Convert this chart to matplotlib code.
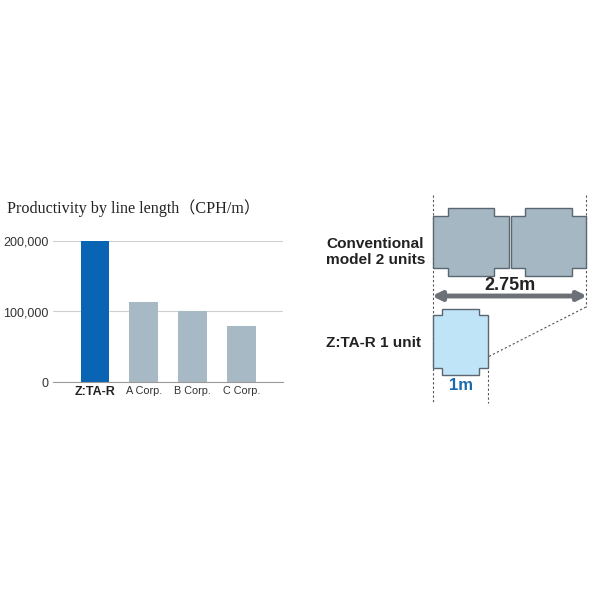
import matplotlib
matplotlib.use("Agg")
import matplotlib.pyplot as plt
from matplotlib.patches import Polygon

# ---- data ----
categories = ["Z:TA-R", "A Corp.", "B Corp.", "C Corp."]
values = [200000, 114000, 100000, 79000]
bar_colors = ["#0a64b4", "#a7b9c4", "#a7b9c4", "#a7b9c4"]
yticks = [0, 100000, 200000]
ytick_labels = ["0", "100,000", "200,000"]
title = "Productivity by line length（CPH/m）"
conv_label = "Conventional\nmodel 2 units"
zta_label = "Z:TA-R 1 unit"
conv_length = "2.75m"
zta_length = "1m"

fig = plt.figure(figsize=(6, 6), dpi=100)

# ---- bar chart ----
ax = fig.add_axes([53/600, 1 - 382.3/600, 230/600, 141.6/600])
x = range(len(categories))
ax.bar(x, values, width=0.59, color=bar_colors, zorder=2)
ax.set_xlim(-0.857, 3.84)
ax.set_ylim(0, 200000)
ax.set_yticks(yticks)
ax.set_yticklabels(ytick_labels, fontsize=9, color="#333333", family="Liberation Sans")
ax.set_xticks(list(x))
ax.set_xticklabels(categories, family="Liberation Sans")
for i, lab in enumerate(ax.get_xticklabels()):
    if i == 0:
        lab.set_fontweight("bold")
        lab.set_fontsize(9)
        lab.set_color("#222222")
    else:
        lab.set_fontsize(7.8)
        lab.set_color("#333333")
ax.tick_params(axis="both", length=0, pad=3)
ax.tick_params(axis="y", pad=3)
ax.grid(axis="y", color="#cfcfcf", lw=0.8, zorder=0)
for s in ["top", "right", "left"]:
    ax.spines[s].set_visible(False)
ax.spines["bottom"].set_color("#9a9a9a")
ax.spines["bottom"].set_linewidth(0.8)
ax.spines["bottom"].set_zorder(3)

fig.text(7/600, 1 - 208/600, title, fontsize=11.6, va="center", ha="left",
         family=["Liberation Serif", "Noto Sans CJK JP"], color="#222222")

# ---- diagram overlay (pixel coords) ----
ov = fig.add_axes([0, 0, 1, 1])
ov.set_xlim(0, 600)
ov.set_ylim(600, 0)
ov.axis("off")
ov.patch.set_alpha(0)


def unit(x0, x1, ytop, ybody_top, ybody_bot, ybot, inset, fc):
    pts = [
        (x0, ybody_top), (x0 + inset, ybody_top), (x0 + inset, ytop),
        (x1 - inset, ytop), (x1 - inset, ybody_top), (x1, ybody_top),
        (x1, ybody_bot), (x1 - inset, ybody_bot), (x1 - inset, ybot),
        (x0 + inset, ybot), (x0 + inset, ybody_bot), (x0, ybody_bot),
    ]
    ov.add_patch(Polygon(pts, closed=True, fc=fc, ec="#5b6670", lw=1.0, zorder=2))


unit(433.3, 508.5, 207.7, 216, 267.7, 276, 14.3, "#a4b7c3")
unit(510.7, 586, 207.7, 216, 267.7, 276, 14.3, "#a4b7c3")
unit(433.3, 487.8, 309.3, 315, 367.7, 375, 8.4, "#bfe3f7")

dash = dict(color="#555555", lw=0.8, ls=(0, (2, 2)), zorder=1)
ov.plot([433.3, 433.3], [195, 403], **dash)
ov.plot([586, 586], [195, 307], **dash)
ov.plot([487.8, 487.8], [357, 403], **dash)
ov.plot([586, 487.8], [307, 357], **dash)

ov.annotate("", xy=(432, 296), xytext=(587, 296),
            arrowprops=dict(arrowstyle="<|-|>", color="#6c7177", lw=3.5,
                            mutation_scale=13, shrinkA=0, shrinkB=0), zorder=3)

ov.text(510, 286, conv_length, fontsize=13, fontweight="bold", ha="center",
        va="center", family="Liberation Sans", color="#222222")
ov.text(461, 385, zta_length, fontsize=12, fontweight="bold", ha="center",
        va="center", family="Liberation Sans", color="#1a6ab0")
ov.text(326, 252, conv_label, fontsize=11.1, fontweight="bold", ha="left",
        va="center", family="Liberation Sans", color="#222222", linespacing=1.2)
ov.text(326, 343, zta_label, fontsize=11.0, fontweight="bold", ha="left",
        va="center", family="Liberation Sans", color="#222222")

fig.savefig("out.png", dpi=100, facecolor="white")
